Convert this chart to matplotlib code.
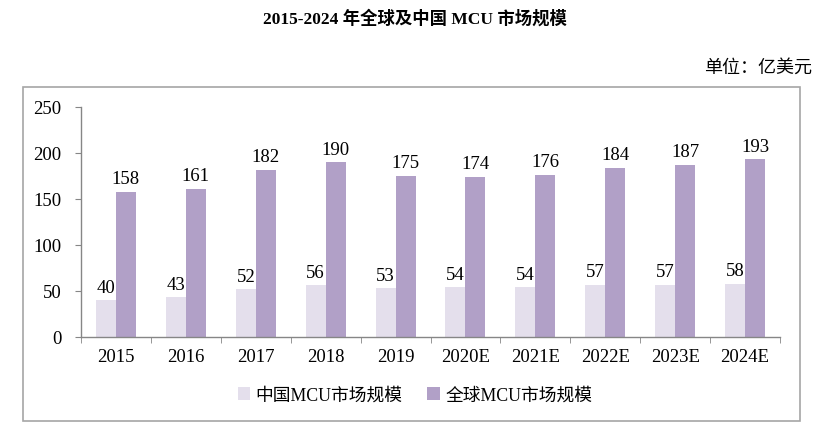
import matplotlib
matplotlib.use("Agg")
import matplotlib.pyplot as plt
from matplotlib.patches import Rectangle
import numpy as np

plt.rcParams['font.family'] = ['Liberation Serif', 'Noto Sans CJK SC']

categories = ["2015", "2016", "2017", "2018", "2019", "2020E", "2021E", "2022E", "2023E", "2024E"]
china = [40, 43, 52, 56, 53, 54, 54, 57, 57, 58]
world = [158, 161, 182, 190, 175, 174, 176, 184, 187, 193]
series_names = ["中国MCU市场规模", "全球MCU市场规模"]
title = "2015-2024 年全球及中国 MCU 市场规模"
unit = "单位：亿美元"

W, H = 831, 431
fig = plt.figure(figsize=(W/100, H/100), dpi=100)

fs = 13.5

# outer frame
fig.patches.append(Rectangle((23/W, 1-422/H), (800-23)/W, (422-88)/H,
                             transform=fig.transFigure, fill=False,
                             edgecolor='#a6a6a6', linewidth=1.2))

ax = fig.add_axes([81/W, 1-338/H, (780-81)/W, (338-108)/H])
x = np.arange(len(categories))
bw = 0.286
c1 = '#e4dfec'
c2 = '#b1a0c7'
b1 = ax.bar(x - bw/2, china, bw, color=c1, label=series_names[0])
b2 = ax.bar(x + bw/2, world, bw, color=c2, label=series_names[1])
for xi, v in zip(x, china):
    ax.text(xi - bw/2, v + 5, str(v), ha='center', va='bottom', fontsize=fs)
for xi, v in zip(x, world):
    ax.text(xi + bw/2, v + 5, str(v), ha='center', va='bottom', fontsize=fs)

ax.set_xlim(-0.5, len(categories) - 0.5)
ax.set_ylim(0, 250)
ax.set_yticks([0, 50, 100, 150, 200, 250])
ax.set_xticks(x)
ax.set_xticklabels(categories)
ax.set_xticks(np.arange(-0.5, len(categories), 1), minor=True)
ax.tick_params(axis='x', which='major', length=0, labelsize=fs, pad=8)
ax.tick_params(axis='x', which='minor', length=4, color='#868686', direction='out')
ax.tick_params(axis='y', length=4, color='#868686', labelsize=fs, pad=10)
for s in ['top', 'right']:
    ax.spines[s].set_visible(False)
for s in ['left', 'bottom']:
    ax.spines[s].set_color('#868686')
    ax.spines[s].set_linewidth(1.0)

leg = fig.legend(handles=[b1, b2], loc='center', bbox_to_anchor=(415/W, 1-396/H),
                 ncol=2, frameon=False, fontsize=12.8, handlelength=0.7,
                 handleheight=0.7, handletextpad=0.3, columnspacing=1.4)

fig.text(415/W, 1-19/H, title, ha='center', va='center', fontsize=12.5, fontweight='bold')
fig.text(812/W, 1-68/H, unit, ha='right', va='center', fontsize=13)

fig.savefig("out.png", dpi=100)
